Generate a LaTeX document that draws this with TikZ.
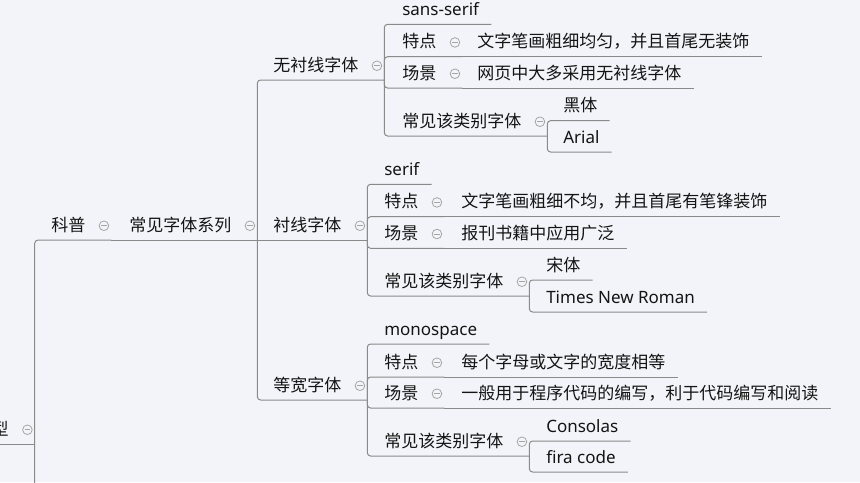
\documentclass[tikz,border=0pt]{standalone}
\usepackage{fontspec}
\setmainfont{Noto Sans CJK SC}
\newfontfamily\latinfont{Noto Sans}
\usetikzlibrary{positioning}
\definecolor{bgcol}{RGB}{243,244,249}
\definecolor{linecol}{RGB}{138,138,138}
\definecolor{foldcol}{RGB}{165,165,165}
% fold mark after a topic, and the point where its branches leave
\newcommand{\fold}[1]{
    \node[fold, right=0.9pt of #1] (#1-o) {};
    \coordinate (#1-e) at ([xshift=1.6pt]#1-o.east |- #1.south);
}

\begin{document}
\begin{tikzpicture}[
        x=0.75pt,
        y=-0.75pt,
        every node/.style={font=\fontsize{12.75pt}{15pt}\selectfont, text=black!92},
        topic/.style={anchor=south west, inner xsep=9pt, inner ysep=2.4pt, text height=12.2pt, text depth=4pt},
        latin/.style={topic, font=\fontsize{12.75pt}{15pt}\latinfont},
        fold/.style={circle, draw=foldcol, line width=0.6pt, minimum size=7.2pt, inner sep=0pt,
            path picture={\draw[foldcol, line width=0.6pt]
                ([xshift=-2.1pt]path picture bounding box.center) -- ([xshift=2.1pt]path picture bounding box.center);}},
        branch/.style={draw=linecol, line width=0.75pt, rounded corners=2.5pt}
    ]
    \fill[bgcol] (0,0) rectangle (860,482);
    \useasboundingbox (0,0) rectangle (860,482);
    \clip (0,0) rectangle (860,482);

    \node[topic, anchor=south east] (root) at (21,444) {型};
    \node[topic] (kp) at (39,240) {科普};
    \node[topic] (cz) at (117,240) {常见字体系列};
    \node[topic] (wx) at (261,80) {无衬线字体};
    \node[topic] (cx) at (261,240) {衬线字体};
    \node[topic] (dk) at (261,400) {等宽字体};
    \coordinate (more) at (60,530);

    % sans-serif
    \node[latin] (wx-n) at (390,24.3) {sans-serif};
    \node[topic] (wx-t) at (390,56.7) {特点};
    \node[topic] (wx-tv) at (465,56.7) {文字笔画粗细均匀，并且首尾无装饰};
    \node[topic] (wx-s) at (390,88) {场景};
    \node[topic] (wx-sv) at (465,88) {网页中大多采用无衬线字体};
    \node[topic] (wx-l) at (390,136) {常见该类别字体};
    \node[topic] (wx-l1) at (551,120.7) {黑体};
    \node[latin] (wx-l2) at (551,152) {Arial};

    % serif
    \node[latin] (cx-n) at (372,184.3) {serif};
    \node[topic] (cx-t) at (372,216.7) {特点};
    \node[topic] (cx-tv) at (449,216.7) {文字笔画粗细不均，并且首尾有笔锋装饰};
    \node[topic] (cx-s) at (372,248.3) {场景};
    \node[topic] (cx-sv) at (449,248.3) {报刊书籍中应用广泛};
    \node[topic] (cx-l) at (372,296) {常见该类别字体};
    \node[topic] (cx-l1) at (534,280) {宋体};
    \node[latin] (cx-l2) at (534,312) {Times New Roman};

    % monospace
    \node[latin] (dk-n) at (372,344) {monospace};
    \node[topic] (dk-t) at (372,377) {特点};
    \node[topic] (dk-tv) at (449,377) {每个字母或文字的宽度相等};
    \node[topic] (dk-s) at (372,408) {场景};
    \node[topic] (dk-sv) at (449,408) {一般用于程序代码的编写，利于代码编写和阅读};
    \node[topic] (dk-l) at (372,456) {常见该类别字体};
    \node[latin] (dk-l1) at (534,441) {Consolas};
    \node[latin] (dk-l2) at (534,472) {fira code};

    \fold{root} \fold{kp} \fold{cz} \fold{wx} \fold{cx} \fold{dk}
    \fold{wx-t} \fold{wx-s} \fold{wx-l}
    \fold{cx-t} \fold{cx-s} \fold{cx-l}
    \fold{dk-t} \fold{dk-s} \fold{dk-l}

    \draw[branch] (root.south west) -- (root-e);
    \draw[branch] (root-e) |- (more);
    \draw[branch] (root-e) |- (kp-e);
    \draw[branch] (kp-e) -- (cz-e);
    \draw[branch] (cz-e) |- (wx-e);
    \draw[branch] (cz-e) -- (cx-e);
    \draw[branch] (cz-e) |- (dk-e);

    \foreach \f in {wx, cx, dk} {
        \draw[branch] (\f-e) |- (\f-n.south east);
        \draw[branch] (\f-e) |- (\f-t-e);
        \draw[branch] (\f-t-e) -- (\f-tv.south east);
        \draw[branch] (\f-e) |- (\f-s-e);
        \draw[branch] (\f-s-e) -- (\f-sv.south east);
        \draw[branch] (\f-e) |- (\f-l-e);
        \draw[branch] (\f-l-e) |- (\f-l1.south east);
        \draw[branch] (\f-l-e) |- (\f-l2.south east);
    }
\end{tikzpicture}
\end{document}
